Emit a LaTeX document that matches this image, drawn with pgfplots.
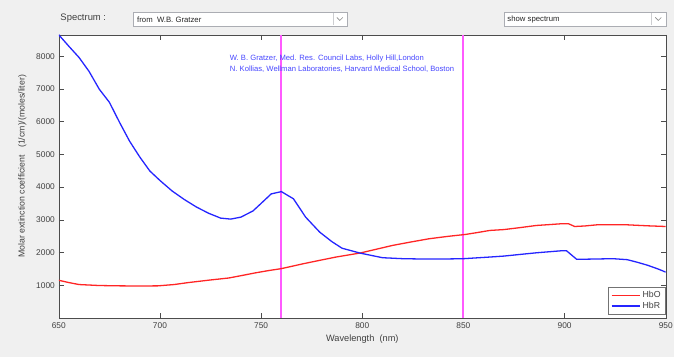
\documentclass[border=0pt]{standalone}
\usepackage{pgfplots}
\pgfplotsset{compat=1.18}
\usepackage{fontspec}
\setmainfont{Liberation Sans}
\definecolor{bgc}{HTML}{F0F0F0}
\definecolor{hbocol}{HTML}{FF2525}
\definecolor{hbrcol}{HTML}{2525FF}
\definecolor{vlinecol}{RGB}{255,90,255}
\definecolor{annocol}{HTML}{4848FF}
\definecolor{txtcol}{HTML}{404040}
\definecolor{ddbcol}{HTML}{ABADB3}
\begin{document}
\begin{tikzpicture}[x=1bp,y=1bp]
\fill[bgc] (0,0) rectangle (676,358);
% top controls
\node[anchor=west,font=\fontsize{9.5}{11}\selectfont,text=txtcol,inner sep=0] at (60.5,340) {Spectrum :};
\draw[fill=white,draw=ddbcol] (134,332) rectangle (348,345.5);
\draw[draw=ddbcol!60] (334,333) -- (334,344.5);
\draw[black!45,line width=0.6bp] (338,340.5) -- (341,337.5) -- (344,340.5);
\node[anchor=west,font=\fontsize{7.8}{9}\selectfont,text=black!85,inner sep=0] at (137.5,338.5) {from\ \ W.B. Gratzer};
\draw[fill=white,draw=ddbcol] (506,332) rectangle (668,345.5);
\draw[draw=ddbcol!60] (653,333) -- (653,344.5);
\draw[black!45,line width=0.6bp] (657.5,340.5) -- (660.5,337.5) -- (663.5,340.5);
\node[anchor=west,font=\fontsize{7.8}{9}\selectfont,text=black!85,inner sep=0] at (509,338.5) {show spectrum};
\begin{axis}[
  at={(59bp,39bp)}, anchor=south west,
  scale only axis, width=609bp, height=284bp,
  xmin=650, xmax=950, ymin=0, ymax=8650,
  xtick={650,700,...,950}, ytick={1000,2000,...,8000},
  scaled ticks=false,
  tick align=inside, major tick length=5bp,
  axis background/.style={fill=white},
  axis line style={black!70},
  tick style={black!70},
  ticklabel style={font=\fontsize{8.4}{10}\selectfont, text=txtcol},
  /pgf/number format/assume math mode=true,
  /pgf/number format/set thousands separator={},
  xticklabel style={yshift=-1bp},
  yticklabel style={xshift=-0.5bp},
  xlabel={Wavelength\ \ (nm)},
  label style={font=\fontsize{9.3}{11}\selectfont, text=txtcol},
  xlabel style={at={(axis description cs:0.5,0)}, anchor=center, yshift=-21.5bp},
  legend style={at={(rel axis cs:1,0.014)}, anchor=south east,
     font=\fontsize{8.8}{10}\selectfont, text=txtcol, fill=white, draw=black!55,
     inner xsep=3bp, inner ysep=2bp, row sep=-1.5bp, cells={anchor=west}},
  legend image post style={xscale=1.65, line width=1.8bp},
]
\addplot[color=vlinecol, line width=2bp, forget plot] coordinates {(760,0) (760,8650)};
\addplot[color=vlinecol, line width=2bp, forget plot] coordinates {(850,0) (850,8650)};
\addplot[color=hbocol, line width=1.3bp] coordinates {
(650,1150) (655,1080) (660,1020) (670,990) (680,980) (690,975) (699,980)
(707,1020) (714,1080) (725,1160) (734,1220) (740,1290) (747,1375) (754,1450)
(760,1506) (771,1658) (779,1760) (787,1860) (799,1984) (807,2100) (815,2216)
(824,2320) (833,2419) (842,2490) (851,2551) (857,2610) (863,2673) (870,2700)
(878,2760) (886,2825) (892,2850) (898,2876) (902,2876) (905,2794) (910,2810)
(916,2845) (924,2845) (931,2845) (936,2830) (941,2815) (950,2794)};
\addlegendentry{HbO}
\addplot[color=hbrcol, line width=1.3bp] coordinates {
(650,8650) (655,8300) (660,7960) (665,7530) (670,6990) (675,6590) (680,5980)
(685,5400) (690,4920) (695,4490) (700,4200) (706,3880) (712,3620) (718,3390)
(724,3200) (730,3050) (735,3020) (740,3080) (746,3270) (750,3500) (755,3790)
(760,3860) (766,3640) (772,3080) (779,2620) (785,2330) (790,2130) (799,1980)
(810,1840) (820,1810) (830,1800) (840,1800) (850,1810) (863,1860) (870,1890)
(878,1940) (886,1990) (898,2050) (901,2050) (906,1790) (915,1800) (924,1810)
(931,1780) (936,1700) (941,1610) (946,1500) (950,1400)};
\addlegendentry{HbR}
\end{axis}
\node[rotate=90,font=\fontsize{8.8}{10}\selectfont,text=txtcol,inner sep=0] at (22.5,191) {Molar extinction coefficient\ \ \ (1/cm)/(moles/liter)};
\node[anchor=west,font=\fontsize{7.7}{9}\selectfont,text=annocol,inner sep=0,align=left] at (230.5,299.5) {W. B. Gratzer, Med. Res. Council Labs, Holly Hill,London};
\node[anchor=west,font=\fontsize{7.7}{9}\selectfont,text=annocol,inner sep=0,align=left] at (230.5,289) {N. Kollias, Wellman Laboratories, Harvard Medical School, Boston};
\end{tikzpicture}
\end{document}
